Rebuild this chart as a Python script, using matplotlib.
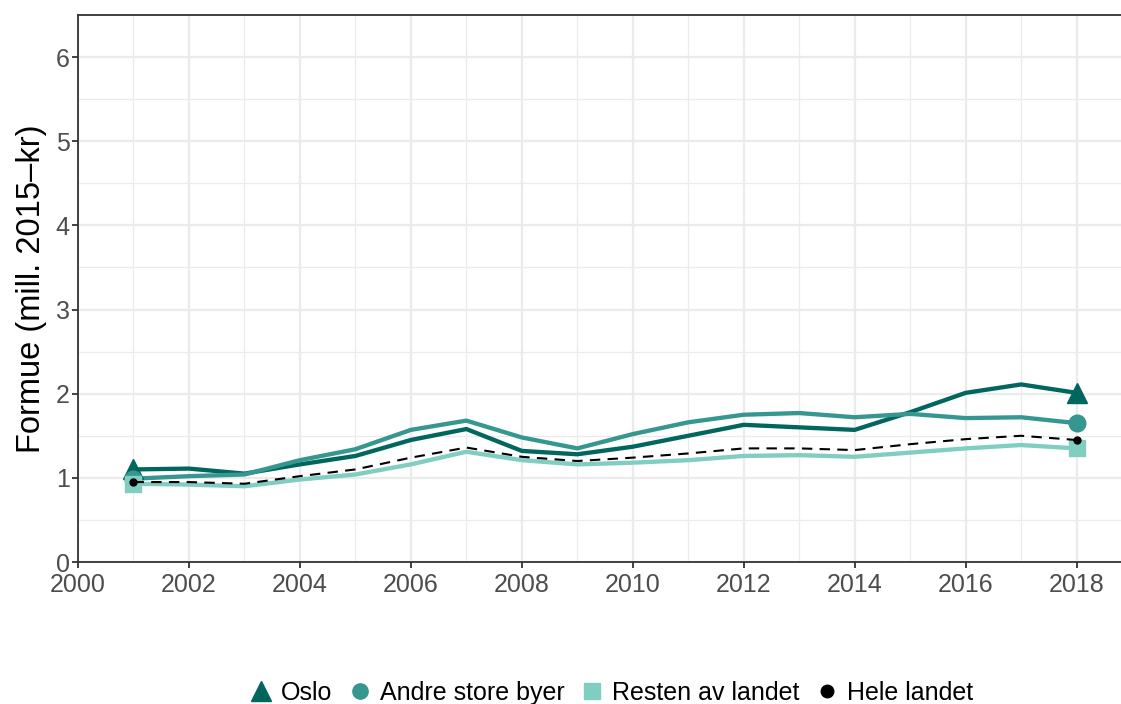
import numpy as np
import matplotlib.pyplot as plt
from matplotlib.lines import Line2D

plt.rcParams['font.family'] = ['Liberation Sans', 'DejaVu Sans']

# Data ------------------------------------------------------------------------
years = np.arange(2001, 2019)
oslo = [1.10, 1.11, 1.05, 1.16, 1.26, 1.45, 1.58, 1.32, 1.28, 1.37, 1.50,
        1.63, 1.60, 1.57, 1.78, 2.01, 2.11, 2.01]
andre = [0.99, 1.02, 1.04, 1.21, 1.34, 1.57, 1.68, 1.48, 1.35, 1.52, 1.66,
         1.75, 1.77, 1.72, 1.76, 1.71, 1.72, 1.65]
resten = [0.93, 0.92, 0.90, 0.98, 1.04, 1.16, 1.31, 1.21, 1.16, 1.18, 1.21,
          1.26, 1.27, 1.25, 1.30, 1.35, 1.39, 1.35]
hele = [0.95, 0.95, 0.93, 1.02, 1.10, 1.24, 1.36, 1.25, 1.20, 1.24, 1.29,
        1.35, 1.35, 1.33, 1.40, 1.46, 1.50, 1.45]

labels = ['Oslo', 'Andre store byer', 'Resten av landet', 'Hele landet']
colors = ['#01665E', '#35978F', '#80CDC1', 'black']
markers = ['^', 'o', 's', 'o']
msizes = [15, 12, 12, 5]

# Plot ------------------------------------------------------------------------
fig = plt.figure(figsize=(11.21, 7.04), dpi=100)
ax = fig.add_axes([0.0696, 0.2017, 0.9304, 0.7770])

series = [oslo, andre, resten]
for s, c, m, ms in zip(series, colors[:3], markers[:3], msizes[:3]):
    ax.plot(years, s, color=c, lw=3.1, zorder=3)
    ax.plot(years[[0, -1]], np.array(s)[[0, -1]], ls='none', marker=m,
            ms=ms, color=c, zorder=4)
ax.plot(years, hele, color='black', lw=1.5, ls=(0, (5, 3.5)), zorder=5)
ax.plot(years[[0, -1]], np.array(hele)[[0, -1]], ls='none', marker='o',
        ms=msizes[3], color='black', zorder=6)

ax.set_xlim(2000, 2018.8)
ax.set_ylim(0, 6.5)
ax.set_xticks(np.arange(2000, 2019, 2))
ax.set_xticks(np.arange(2001, 2019, 2), minor=True)
ax.set_yticks(np.arange(0, 7, 1))
ax.set_yticks(np.arange(0.5, 6.5, 1), minor=True)
ax.grid(which='major', color='#EBEBEB', lw=1.6, zorder=0)
ax.grid(which='minor', color='#EBEBEB', lw=0.9, zorder=0)
ax.set_axisbelow(True)

for side in ['left', 'bottom', 'top']:
    ax.spines[side].set_color('#333333')
    ax.spines[side].set_linewidth(1.3)
ax.spines['right'].set_visible(False)
ax.tick_params(which='major', length=4, width=1.3, color='#333333',
               labelsize=18, labelcolor='#4D4D4D', pad=2)
ax.tick_params(axis='x', which='major', pad=4)
ax.tick_params(which='minor', length=0)
ax.set_ylabel('Formue (mill. 2015\u2013kr)', fontsize=23.5, labelpad=6)

handles = [Line2D([], [], ls='none', marker=m, ms=ms, color=c)
           for m, ms, c in zip(markers[:3], [14, 11, 11], colors[:3])]
handles.append(Line2D([], [], ls='none', marker='o', ms=9, color='black'))
fig.legend(handles, labels, loc='center', bbox_to_anchor=(0.544, 0.016),
           ncol=4, frameon=False, fontsize=18, handletextpad=0.2,
           columnspacing=0.5, handlelength=1.2)

plt.savefig('out.png', dpi=100, facecolor='w')
